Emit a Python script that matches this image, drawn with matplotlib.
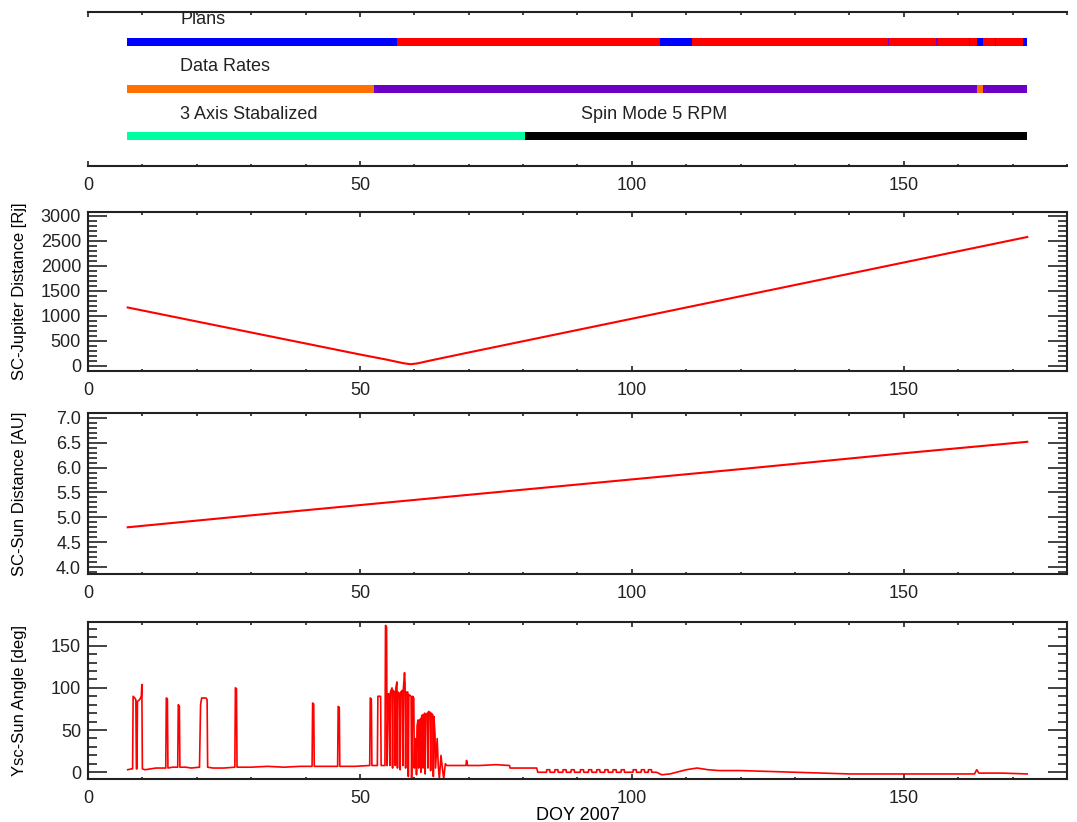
import matplotlib
matplotlib.use("Agg")
import matplotlib.pyplot as plt
from matplotlib.ticker import MultipleLocator, FormatStrFormatter

plt.rcParams['font.family'] = ['Liberation Sans', 'DejaVu Sans']
plt.rcParams['font.size'] = 13
plt.rcParams['text.color'] = '#222222'
plt.rcParams['xtick.color'] = '#222222'
plt.rcParams['ytick.color'] = '#222222'

# timeline bars: (start doy, end doy, colour)
plans = [(7.2, 56.8, 'blue'), (56.8, 105.1, 'red'), (105.1, 111.0, 'blue'),
         (111.0, 163.4, 'red'), (163.4, 164.5, 'blue'), (164.5, 172.0, 'red'),
         (172.0, 172.7, 'blue')]
plan_marks = [147.0, 156.0, 162.0, 166.7]
rates = [(7.2, 52.6, '#ff7000'), (52.6, 163.4, '#6a00c4'),
         (163.4, 164.5, '#ff7000'), (164.5, 172.7, '#6a00c4')]
attitude = [(7.2, 80.3, '#00ffa0'), (80.3, 172.7, 'black')]

# SC-Jupiter distance [Rj]
jup_doy = [7.3, 20, 30, 40, 50, 55, 58, 59.3, 60.5, 63, 70, 90, 110, 130, 150, 172.7]
jup_rj = [1170, 890, 670, 450, 230, 125, 55, 35, 50, 110, 270, 720, 1170, 1620, 2070, 2580]

# SC-Sun distance [AU]
sun_doy = [7.3, 30, 60, 90, 120, 150, 172.7]
sun_au = [4.80, 5.04, 5.35, 5.66, 5.97, 6.29, 6.52]

# Ysc-Sun angle [deg]
ang_doy = [7.3, 8.0, 8.2, 8.3, 8.6, 8.8, 8.9, 9.0, 9.1, 9.5, 9.8, 9.9, 10.0,
           10.5, 11.5, 12.5, 13.5, 14.3, 14.4, 14.6, 14.7, 15.5, 16.5,
           16.6, 16.8, 16.9, 18, 19, 20.5, 20.7, 20.9, 21.7, 21.9, 22.0,
           23, 25, 27.0, 27.1, 27.3, 27.4, 30, 33, 36, 39, 41.2, 41.3, 41.5, 41.6,
           44, 45.9, 46.0, 46.2, 46.3, 49, 51.8, 51.9, 52.1, 52.2,
           53.2, 53.3, 53.8, 53.9, 54.6, 54.7, 54.9, 55.0,
           55.2, 55.4, 55.5, 55.6, 55.9, 56.0, 56.1, 56.4, 56.5, 56.6, 56.8, 56.9,
           57.0, 57.3, 57.4, 57.5, 57.8, 57.9, 58.0, 58.2, 58.3, 58.4, 58.5, 58.8,
           58.9, 59.0, 59.4, 59.5, 59.7, 59.9, 60.0, 60.1, 60.3, 60.4, 60.5, 60.7,
           60.8, 60.9, 61.1, 61.2, 61.3, 61.5, 61.6, 61.7, 61.9, 62.0, 62.1, 62.4,
           62.5, 62.6, 62.9, 63.0, 63.1, 63.4, 63.5, 63.6, 63.8, 63.9, 64.2, 64.4,
           64.6, 64.9, 65.1, 65.4, 65.7, 66, 67, 69.5, 69.6, 69.8, 72, 75, 77.5,
           77.6, 82.5, 82.7, 84.0]
ang_deg = [3, 4, 4, 90, 88, 86, 4, 4, 84, 86, 90, 104, 4,
           3, 4, 5, 5, 5, 88, 87, 5, 6, 6,
           80, 78, 6, 6, 5, 6, 80, 88, 88, 86, 6,
           5, 5, 6, 100, 99, 6, 6, 7, 6, 7, 7, 82, 81, 7,
           7, 7, 78, 77, 7, 7, 8, 88, 87, 8,
           8, 90, 90, 8, 8, 174, 172, 8,
           93, 92, 8, 95, 100, 5, 97, 95, 8, 100, 107, 5,
           95, 93, 3, 95, 97, 8, 100, 118, 105, 5, 95, 95,
           -5, 92, 90, -8, 90, 88, 5, 40, 38, -3, 55, 62,
           5, 60, 63, 0, 65, 68, 5, 66, 70, -2, 68, 70,
           5, 72, 71, 2, 70, 68, -5, 66, 45, 5, 40, 8,
           -8, 20, 8, -8, 10, 8, 8, 8, 14, 8, 8, 9, 8,
           5, 5, 0, 0]
# small steps on the low baseline after doy 84
bump_days = [84.3, 85.8, 87.3, 88.8, 90.5, 92.0, 93.5, 95.0, 96.5, 98.0,
             100.2, 101.7, 103.0]
tail_doy = [104.5, 105.5, 107, 110, 112, 114, 116, 120, 125, 130, 135, 140,
            150, 160, 163.0, 163.4, 163.8, 168, 172.7]
tail_deg = [0, -3, -2, 3, 5, 3, 2, 2, 1, 0, -1, -2, -2, -2, -2, 3, -1, -1, -2]

for d in bump_days:
    ang_doy += [d, d + 0.05, d + 0.6, d + 0.65]
    ang_deg += [0, 3, 3, 0]
ang_doy += tail_doy
ang_deg += tail_deg

fig = plt.figure(figsize=(10.77, 8.22), dpi=100)
left, width = 0.0817, 0.909
ax1 = fig.add_axes([left, 0.798, width, 0.187])
ax2 = fig.add_axes([left, 0.5487, width, 0.1934])
ax3 = fig.add_axes([left, 0.3017, width, 0.1959])
ax4 = fig.add_axes([left, 0.0523, width, 0.191])

for ax in [ax1, ax2, ax3, ax4]:
    ax.set_xlim(0, 180)
    ax.xaxis.set_major_locator(MultipleLocator(50))
    ax.xaxis.set_minor_locator(MultipleLocator(10))
    ax.tick_params(axis='x', which='both', direction='in', top=True, bottom=True,
                   pad=8, width=1.2, labelsize=13)
    ax.tick_params(axis='x', which='major', length=3.5)
    ax.tick_params(axis='x', which='minor', length=1.8)
    ax.tick_params(axis='y', which='both', direction='in', left=True, right=True,
                   width=1.2, pad=5, labelsize=13)
    ax.tick_params(axis='y', which='major', length=13.5)
    ax.tick_params(axis='y', which='minor', length=6.5)
    for s in ax.spines.values():
        s.set_linewidth(1.5)
        s.set_color('#222222')

# top panel: mode timelines
ax1.set_ylim(0, 1)
ax1.set_yticks([])
ax1.spines['left'].set_visible(False)
ax1.spines['right'].set_visible(False)
bar_h = 0.052
rows = [(plans, 0.81, 'Plans', 17.0, 0.955), (rates, 0.50, 'Data Rates', 17.0, 0.645),
        (attitude, 0.195, '3 Axis Stabalized', 17.0, 0.335)]
for segs, yc, label, tx, ty in rows:
    for a, b, c in segs:
        ax1.broken_barh([(a, b - a)], (yc - bar_h / 2, bar_h), facecolors=c)
    ax1.text(tx, ty, label, va='center', ha='left', fontsize=13)
for d in plan_marks:
    ax1.broken_barh([(d, 0.25)], (0.81 - bar_h / 2, bar_h), facecolors='#7a00b0')
ax1.text(90.6, 0.335, 'Spin Mode 5 RPM', va='center', ha='left', fontsize=13)

# SC-Jupiter distance
ax2.plot(jup_doy, jup_rj, color='red', lw=1.5)
ax2.set_ylim(-100, 3080)
ax2.yaxis.set_major_locator(MultipleLocator(500))
ax2.yaxis.set_minor_locator(MultipleLocator(100))
ax2.set_ylabel('SC-Jupiter Distance [Rj]', fontsize=12)

# SC-Sun distance
ax3.plot(sun_doy, sun_au, color='red', lw=1.5)
ax3.set_ylim(3.86, 7.10)
ax3.yaxis.set_major_locator(MultipleLocator(0.5))
ax3.yaxis.set_minor_locator(MultipleLocator(0.1))
ax3.yaxis.set_major_formatter(FormatStrFormatter('%.1f'))
ax3.set_ylabel('SC-Sun Distance [AU]', fontsize=12)

# Ysc-Sun angle
ax4.plot(ang_doy, ang_deg, color='red', lw=1.2)
ax4.set_ylim(-8, 178)
ax4.yaxis.set_major_locator(MultipleLocator(50))
ax4.yaxis.set_minor_locator(MultipleLocator(10))
ax4.set_ylabel('Ysc-Sun Angle [deg]', fontsize=12)
ax4.set_xlabel('DOY 2007', fontsize=13, labelpad=0)

for ax in [ax2, ax3, ax4]:
    ax.yaxis.set_label_coords(-0.062, 0.5)

fig.savefig('out.png', dpi=100)
